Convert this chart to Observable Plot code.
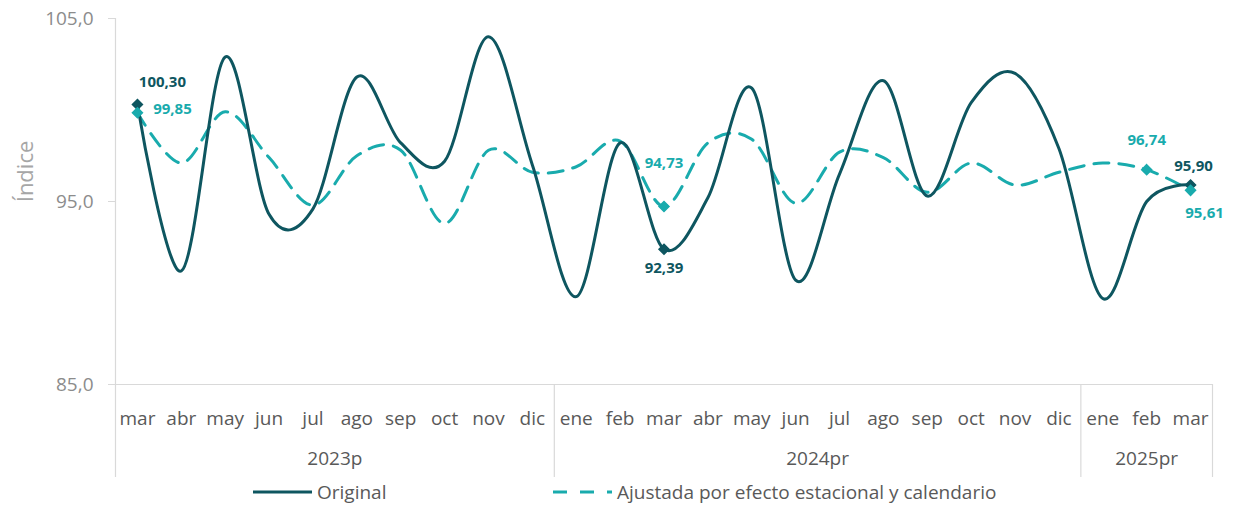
<!DOCTYPE html>
<html>
<head>
<meta charset="utf-8">
<script src="https://cdn.jsdelivr.net/npm/d3@7"></script>
<script src="https://cdn.jsdelivr.net/npm/@observablehq/plot@0.6"></script>
<style>
  html, body { margin: 0; padding: 0; background: #fff; }
  #wrap { width: 1233px; height: 506px; position: relative; font-family: "Open Sans", "Noto Sans", sans-serif; }
  #legend { position: relative; height: 28px; font-size: 19px; color: #595959; }
  #legend .item { position: absolute; top: 0; height: 28px; display: flex; align-items: center; gap: 5px; }
</style>
</head>
<body>
<div id="wrap">
  <div id="chart"></div>
  <div id="legend"></div>
</div>
<script>
// ---- data ----
const months = ["mar","abr","may","jun","jul","ago","sep","oct","nov","dic",
                "ene","feb","mar","abr","may","jun","jul","ago","sep","oct","nov","dic",
                "ene","feb","mar"];
const original = [100.30, 91.2, 102.9, 94.3, 94.6, 101.8, 98.2, 97.2, 104.0, 97.0,
                  89.8, 98.2, 92.39, 95.2, 101.2, 90.7, 96.5, 101.6, 95.3, 100.4, 102.0, 97.9,
                  89.7, 95.0, 95.90];
const ajustada = [99.85, 97.1, 99.9, 97.4, 94.8, 97.5, 97.8, 93.8, 97.8, 96.6,
                  96.9, 98.3, 94.73, 98.2, 98.4, 94.9, 97.7, 97.4, 95.5, 97.1, 95.9, 96.6,
                  97.1, 96.74, 95.61];
const years = ["2023p", "2024pr", "2025pr"];
const yearLengths = [10, 12, 3];
const yTicks = [85, 95, 105];
const seriesNames = ["Original", "Ajustada por efecto estacional y calendario"];
const originalLabeled = [0, 12, 24];
const ajustadaLabeled = [0, 12, 23, 24];

// ---- styling ----
const C_ORIG = "#0e5660";
const C_AJ = "#19abad";
const fmt = v => v.toFixed(2).replace(".", ",");
const fmtTick = v => v.toFixed(1).replace(".", ",");

const W = 1233, H = 478;
const mL = 115, mR = 21, mT = 18, mB = 94;
const yMin = 85, yMax = 105;
const extY = yMin - (yMax - yMin) * 93 / (H - mT - mB); // extends rules into the bottom margin

const rowsO = original.map((v, i) => ({i, v}));
const rowsA = ajustada.map((v, i) => ({i, v}));

// group boundaries
let acc = -0.5;
const bounds = [acc];
const yearRows = years.map((y, k) => {
  const start = acc; acc += yearLengths[k]; bounds.push(acc);
  return {year: y, mid: (start + acc) / 2};
});

// label placement (style offsets)
const labelOffsO = {0: [25, -22], 12: [0, 19], 24: [3, -19]};
const labelOffsA = {0: [35, -4], 12: [0, -43], 23: [0, -29], 24: [14, 23]};

const labelMarks = [];
originalLabeled.forEach(i => {
  const [dx, dy] = labelOffsO[i];
  labelMarks.push(Plot.text([rowsO[i]], {x: "i", y: "v", text: d => fmt(d.v), dx, dy,
    fill: C_ORIG, fontWeight: "bold", fontSize: 15}));
});
ajustadaLabeled.forEach(i => {
  const [dx, dy] = labelOffsA[i];
  labelMarks.push(Plot.text([rowsA[i]], {x: "i", y: "v", text: d => fmt(d.v), dx, dy,
    fill: C_AJ, fontWeight: "bold", fontSize: 15}));
});

const chart = Plot.plot({
  width: W, height: H,
  marginLeft: mL, marginRight: mR, marginTop: mT, marginBottom: mB,
  style: {fontFamily: "'Open Sans', 'Noto Sans', sans-serif", background: "#fff", overflow: "visible"},
  x: {type: "linear", domain: [-0.5, months.length - 0.5], axis: null},
  y: {domain: [yMin, yMax], axis: null},
  marks: [
    // frame rules
    Plot.ruleY([yMin], {stroke: "#d9d9d9", strokeWidth: 1.2, x1: -0.5 - 7 / 43.88, x2: months.length - 0.5}),
    Plot.ruleX([bounds[0]], {y1: yMax, y2: extY, stroke: "#d9d9d9", strokeWidth: 1.2}),
    Plot.ruleX(bounds.slice(1), {y1: yMin, y2: extY, stroke: "#d9d9d9", strokeWidth: 1.2}),
    // y axis
    Plot.axisY(yTicks, {tickSize: 7, tickPadding: 15, stroke: "#d9d9d9", fill: "#8c8c8c",
      fontSize: 19, tickFormat: fmtTick, label: null}),
    Plot.text(["Índice"], {frameAnchor: "left", textAnchor: "middle", rotate: -90, dx: -90, dy: -30,
      fill: "#a6a6a6", fontSize: 22}),
    // x axis month labels
    Plot.axisX(months.map((m, i) => i), {tickSize: 0, tickPadding: 27, fill: "#595959",
      fontSize: 19, tickFormat: i => months[i], label: null}),
    // year labels
    Plot.text(yearRows, {x: "mid", text: "year", frameAnchor: "bottom", dy: 80,
      fill: "#595959", fontSize: 19}),
    // series
    Plot.line(rowsA, {x: "i", y: "v", stroke: C_AJ, strokeWidth: 3, strokeDasharray: "15,10",
      curve: "cardinal"}),
    Plot.line(rowsO, {x: "i", y: "v", stroke: C_ORIG, strokeWidth: 3, curve: "cardinal"}),
    // markers
    Plot.dot(originalLabeled.map(i => rowsO[i]), {x: "i", y: "v", symbol: "diamond2",
      r: 4.5, fill: C_ORIG, stroke: C_ORIG}),
    Plot.dot(ajustadaLabeled.map(i => rowsA[i]), {x: "i", y: "v", symbol: "diamond2",
      r: 4.5, fill: C_AJ, stroke: C_AJ}),
    ...labelMarks
  ]
});
document.getElementById("chart").appendChild(chart);

// legend
const legend = document.getElementById("legend");
const sw = [
  `<svg width="59" height="10"><line x1="0" x2="59" y1="5" y2="5" stroke="${C_ORIG}" stroke-width="3"/></svg>`,
  `<svg width="59" height="10"><line x1="0" x2="59" y1="5" y2="5" stroke="${C_AJ}" stroke-width="3" stroke-dasharray="14,13"/></svg>`
];
const legendLeft = [253, 553];
seriesNames.forEach((n, k) => {
  const d = document.createElement("div");
  d.className = "item";
  d.style.left = legendLeft[k] + "px";
  d.innerHTML = sw[k] + `<span>${n}</span>`;
  legend.appendChild(d);
});
</script>
</body>
</html>
